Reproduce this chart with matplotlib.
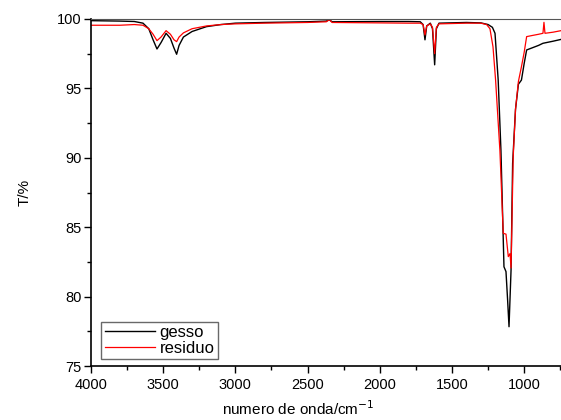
import matplotlib
matplotlib.use('Agg')
import matplotlib.pyplot as plt
from matplotlib.ticker import MultipleLocator

plt.rcParams['font.family'] = ['Liberation Sans', 'DejaVu Sans']

# gesso (black)
wn_gesso = [4000, 3800, 3700, 3640, 3600, 3570, 3543, 3515, 3480, 3450, 3425, 3407,
            3390, 3360, 3300, 3200, 3100, 3000, 2800, 2500, 2370, 2350, 2330, 2000,
            1800, 1720, 1700, 1687, 1675, 1650, 1635, 1620, 1608, 1590, 1400, 1300,
            1250, 1220, 1202, 1180, 1161, 1140, 1126, 1115, 1105, 1091, 1080, 1060,
            1040, 1019, 1000, 983, 950, 900, 870, 800, 745]
t_gesso = [99.88, 99.85, 99.82, 99.7, 99.3, 98.5, 97.84, 98.3, 98.97, 98.6, 97.9, 97.46,
           98.1, 98.7, 99.1, 99.45, 99.6, 99.7, 99.75, 99.8, 99.85, 99.95, 99.8, 99.82,
           99.82, 99.8, 99.6, 98.5, 99.5, 99.7, 99.3, 96.7, 99.3, 99.7, 99.75, 99.72,
           99.6, 99.4, 98.97, 95.6, 90.56, 82.15, 81.8, 79.8, 77.83, 81.9, 89.6, 93.5,
           95.3, 95.6, 96.8, 97.77, 97.9, 98.1, 98.25, 98.4, 98.53]

# residuo (red)
wn_residuo = [4000, 3800, 3700, 3640, 3600, 3570, 3543, 3515, 3480, 3450, 3425, 3407,
              3390, 3360, 3300, 3200, 3100, 3000, 2800, 2500, 2370, 2350, 2330, 2000,
              1800, 1720, 1700, 1687, 1675, 1650, 1635, 1620, 1608, 1590, 1400, 1300,
              1260, 1237, 1216, 1198, 1168, 1145, 1126, 1110, 1098, 1091, 1076, 1060,
              1040, 1019, 1000, 983, 950, 900, 870, 863, 856, 800, 745]
t_residuo = [99.55, 99.55, 99.6, 99.55, 99.3, 98.9, 98.44, 98.7, 99.16, 98.9, 98.5, 98.37,
             98.7, 99.0, 99.3, 99.5, 99.6, 99.65, 99.7, 99.75, 99.8, 99.95, 99.75, 99.72,
             99.7, 99.7, 99.6, 98.85, 99.5, 99.65, 99.4, 97.5, 99.4, 99.65, 99.7, 99.7,
             99.6, 99.3, 98.0, 95.6, 90.5, 84.56, 84.5, 82.88, 83.1, 82.06, 90.08, 93.5,
             95.5, 96.56, 97.6, 98.73, 98.8, 98.9, 98.97, 99.76, 98.97, 99.05, 99.16]

fig = plt.figure(figsize=(5.61, 4.2), dpi=100)
ax = fig.add_axes([91 / 561, 1 - 366 / 420, 1 - 91 / 561, (366 - 19) / 420])

ax.plot(wn_gesso, t_gesso, color='black', lw=1.0, label='gesso')
ax.plot(wn_residuo, t_residuo, color='red', lw=0.9, label='residuo')

ax.set_xlim(4000, 745)
ax.set_ylim(75, 100)
ax.xaxis.set_major_locator(MultipleLocator(500))
ax.xaxis.set_minor_locator(MultipleLocator(250))
ax.yaxis.set_major_locator(MultipleLocator(5))
ax.yaxis.set_minor_locator(MultipleLocator(2.5))
ax.tick_params(which='both', direction='out', width=1, labelsize=10.5)
ax.tick_params(which='major', length=5)
ax.tick_params(which='minor', length=3)
ax.tick_params(axis='y', pad=2)

ax.spines['right'].set_visible(False)
ax.spines['top'].set_color('#555555')
ax.spines['top'].set_linewidth(0.8)
for s in ('left', 'bottom'):
    ax.spines[s].set_linewidth(1.2)

ax.set_ylabel('T/%', fontsize=11, labelpad=18)
ax.set_xlabel('numero de onda/cm$^{-1}$', fontsize=11)
ax.xaxis.set_label_coords((298 - 91) / (561 - 91), -0.095)

leg = ax.legend(loc='lower left', bbox_to_anchor=(0.015, 0.01), fontsize=12,
                frameon=True, fancybox=False, borderpad=0.2, labelspacing=0.05,
                handlelength=3.0, handletextpad=0.3, borderaxespad=0.2)
leg.get_frame().set_edgecolor('#444444')
leg.get_frame().set_linewidth(1.0)

fig.savefig('out.png', dpi=100)
